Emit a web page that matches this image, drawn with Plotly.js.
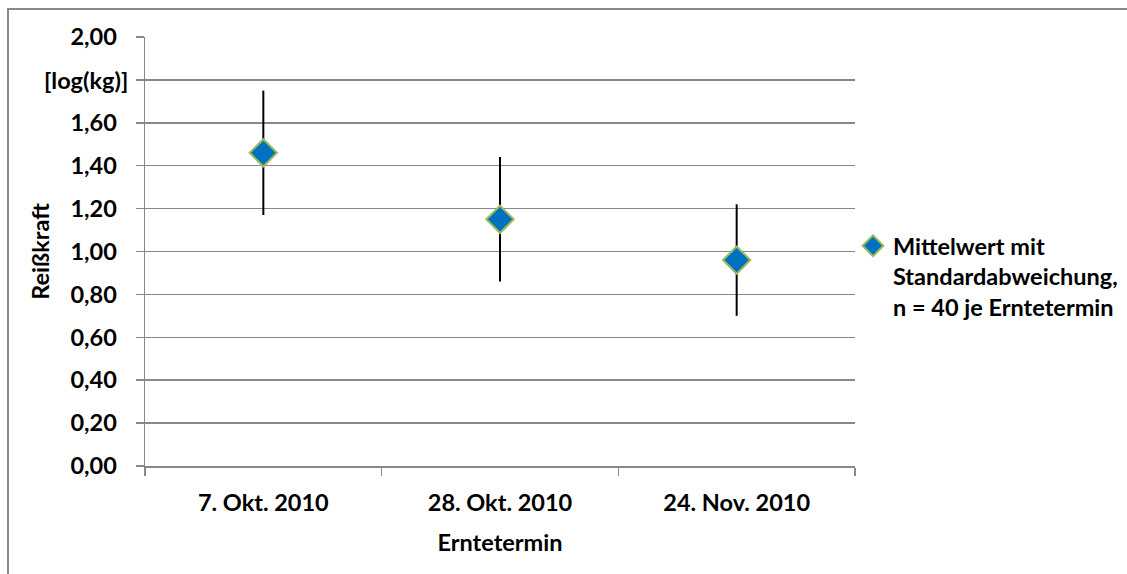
<!DOCTYPE html>
<html>
<head>
<meta charset="utf-8">
<script src="https://cdn.plot.ly/plotly-3.0.1.min.js"></script>
<style>html,body{margin:0;padding:0;background:#fff;}#chart{width:1127px;height:574px;}</style>
</head>
<body>
<div id="chart"></div>
<script>
const categories = ["7. Okt. 2010", "28. Okt. 2010", "24. Nov. 2010"];
const meanValues = [1.46, 1.15, 0.96];
const sdValues = [0.29, 0.29, 0.26];
const yTickValues = [0, 0.2, 0.4, 0.6, 0.8, 1.0, 1.2, 1.4, 1.6, 1.8, 2.0];
const yTickLabels = ["0,00", "0,20", "0,40", "0,60", "0,80", "1,00", "1,20", "1,40", "1,60", "", "2,00"];
const unitLabel = "[log(kg)]";
const unitLabelValue = 1.8;
const seriesName = "Mittelwert mit<br>Standardabweichung,<br>n = 40 je Erntetermin";

const FONT = "Lato, 'Open Sans', sans-serif";
const FS = 23.5;
const W = 1127, H = 574;
const L = 145, R = 855, T = 37, B = 466;
const pw = R - L, ph = B - T;
const px = v => (v - L) / pw;
const py = v => (B - v) / ph;
const f = () => ({ family: FONT, size: FS, weight: "bold", color: "#000" });

const trace = {
  type: "scatter",
  mode: "markers",
  x: categories,
  y: meanValues,
  name: seriesName,
  error_y: { type: "data", array: sdValues, visible: true, color: "#000", thickness: 2, width: 0 },
  marker: { symbol: "diamond", size: 21, color: "#0070C0", line: { color: "#9BBB59", width: 2 } },
  showlegend: true
};

const layout = {
  width: W, height: H,
  margin: { l: L, r: W - R, t: T, b: H - B, pad: 0, autoexpand: false },
  paper_bgcolor: "#fff",
  plot_bgcolor: "#fff",
  font: f(),
  xaxis: {
    type: "category",
    range: [-0.5, 2.5],
    tickson: "boundaries",
    ticks: "outside", ticklen: 8, tickcolor: "#888", tickwidth: 1.5,
    showline: true, linecolor: "#888", linewidth: 1.5,
    showgrid: false, zeroline: false,
    tickfont: f(),
    ticklabelstandoff: 15,
    title: { text: "Erntetermin", font: f(), standoff: 20 },
    fixedrange: true
  },
  yaxis: {
    range: [0, 2],
    tickvals: yTickValues,
    ticktext: yTickLabels,
    ticks: "outside", ticklen: 8, tickcolor: "#888", tickwidth: 1.5,
    showline: true, linecolor: "#888", linewidth: 1.5,
    showgrid: true, gridcolor: "#888", gridwidth: 1.5,
    zeroline: false,
    tickfont: f(),
    ticklabelstandoff: 14,
    title: { text: "Reißkraft", font: f(), standoff: 14 },
    fixedrange: true
  },
  annotations: [
    { text: unitLabel, xref: "paper", yref: "y", x: px(130), y: unitLabelValue,
      xanchor: "right", yanchor: "middle", showarrow: false, font: f() }
  ],
  legend: {
    x: px(853), xanchor: "left",
    y: py(224), yanchor: "top",
    valign: "top",
    bgcolor: "rgba(0,0,0,0)",
    font: f()
  },
  shapes: [
    { type: "rect", xref: "paper", yref: "paper",
      x0: px(8), x1: px(1135), y0: py(585), y1: py(9),
      line: { color: "#888", width: 2 }, fillcolor: "rgba(0,0,0,0)", layer: "below" }
  ]
};

Plotly.newPlot("chart", [trace], layout, { displayModeBar: false, staticPlot: true });
</script>
</body>
</html>
